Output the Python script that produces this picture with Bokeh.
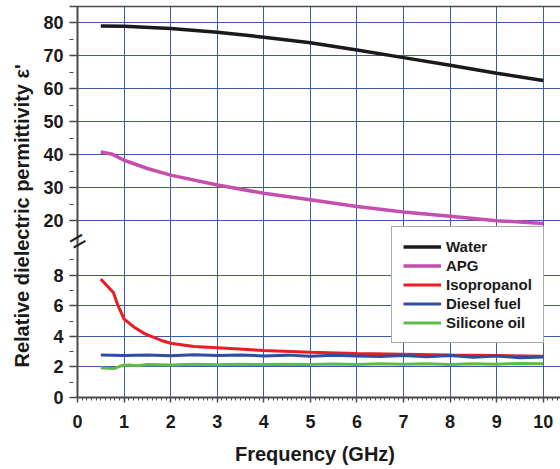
import numpy as np
from bokeh.plotting import figure
from bokeh.models import (Range1d, FixedTicker, SingleIntervalTicker, Legend,
                          LegendItem, Label, CustomJSTickFormatter, Span, Title,
                          LinearAxis)
from bokeh.embed import file_html
from bokeh.resources import INLINE

# ---------------- data ----------------
freq_water = [0.5, 1, 2, 3, 4, 5, 6, 7, 8, 9, 10]
eps_water = [79.1, 79.0, 78.3, 77.2, 75.7, 74.0, 71.8, 69.5, 67.2, 64.8, 62.6]

freq_apg = [0.5, 0.75, 1, 1.5, 2, 3, 4, 5, 6, 7, 8, 9, 10]
eps_apg = [40.9, 40.2, 38.4, 35.9, 33.9, 30.9, 28.4, 26.4, 24.4, 22.7, 21.4, 20.1, 19.2]

freq_iso = [0.5, 0.77, 0.87, 1.0, 1.2, 1.45, 1.8, 2.0, 2.5, 3, 4, 5, 6, 7, 8, 9, 10]
eps_iso = [7.74, 6.87, 6.0, 5.13, 4.63, 4.16, 3.73, 3.55, 3.33, 3.25, 3.07, 2.95,
           2.88, 2.83, 2.78, 2.74, 2.70]

freq_diesel = [0.5, 1, 1.5, 2, 2.5, 3, 3.5, 4, 4.5, 5, 5.5, 6, 6.5, 7, 7.5, 8, 8.5,
               9, 9.5, 10]
eps_diesel = [2.78, 2.75, 2.78, 2.73, 2.80, 2.74, 2.78, 2.72, 2.77, 2.70, 2.76, 2.72,
              2.68, 2.75, 2.66, 2.74, 2.63, 2.72, 2.60, 2.65]

freq_sil = [0.5, 0.65, 0.8, 0.95, 1.1, 1.3, 1.5, 2, 2.5, 3, 3.5, 4, 4.5, 5, 5.5, 6,
            6.5, 7, 7.5, 8, 8.5, 9, 9.5, 10]
eps_sil = [1.95, 1.92, 1.90, 2.08, 2.12, 2.07, 2.15, 2.12, 2.17, 2.14, 2.18, 2.15,
           2.18, 2.15, 2.19, 2.16, 2.20, 2.17, 2.20, 2.16, 2.21, 2.18, 2.22, 2.20]

names = ["Water", "APG", "Isopropanol", "Diesel fuel", "Silicone oil"]
colors = ["#1a1a1a", "#C44FAE", "#EC1C24", "#2E4EA3", "#5DBB46"]

lower_major = [0, 2, 4, 6, 8]
lower_minor = [1, 3, 5, 7, 9]
upper_major = [20, 30, 40, 50, 60, 70, 80]
upper_minor = [25, 35, 45, 55, 65, 75]
x_grid_ticks = list(range(1, 11))

y_title = "Relative dielectric permittivity \u03b5'"
x_title = "Frequency (GHz)"

# ---------------- broken axis ranges ----------------
X_MIN = -0.172            # a little room left of the origin for the tick marks
X_MAX = 10.37
LOW_TOP = 25.56           # lower scale (0..10) occupies bottom part of frame
UP_HI = 85.0              # upper scale
UP_LO = UP_HI - 118.5
BREAK_LOW = 10.24         # where the axis break marker sits (lower scale)


def to_low(v):
    return (v - UP_LO) / (UP_HI - UP_LO) * LOW_TOP


FONT = "Liberation Sans"
AXIS_COL = "#4a4a4a"
GRID_COL = "#3F58A8"
TXT_COL = "#1a1a1a"

p = figure(width=560, height=469, x_range=Range1d(X_MIN, X_MAX),
           y_range=Range1d(0, LOW_TOP), output_backend="svg",
           toolbar_location=None, min_border_left=69, min_border_right=0,
           min_border_top=6, min_border_bottom=72)
p.extra_y_ranges = {"upper": Range1d(UP_LO, UP_HI)}

p.background_fill_color = "white"
p.border_fill_color = "white"
p.outline_line_color = None

xa = p.below[0]
ya = p.left[0]

# ---- x axis ----
xa.ticker = SingleIntervalTicker(interval=1, num_minor_ticks=10)
xa.bounds = (0, X_MAX)
xa.major_tick_out = 5
xa.minor_tick_out = 3
xa.major_label_standoff = 12
xa.axis_label = x_title
xa.axis_label_standoff = 12

# ---- y axis (ticks drawn inward so they sit left of the origin line) ----
ya.ticker = FixedTicker(ticks=lower_major + [to_low(v) for v in upper_major],
                        minor_ticks=lower_minor + [to_low(v) for v in upper_minor])
ya.formatter = CustomJSTickFormatter(
    args=dict(lt=LOW_TOP, lo=UP_LO, hi=UP_HI, brk=BREAK_LOW),
    code="""
    if (tick > brk) { return Math.round(lo + tick / lt * (hi - lo)).toString(); }
    return Math.round(tick).toString();
    """)
ya.axis_line_color = None
ya.major_tick_in = 8
ya.major_tick_out = 0
ya.minor_tick_in = 4
ya.minor_tick_out = 0
ya.major_label_standoff = 6

for ax in (xa, ya):
    ax.major_tick_line_color = AXIS_COL
    ax.minor_tick_line_color = AXIS_COL
    ax.major_tick_line_width = 1.5
    ax.minor_tick_line_width = 1
    ax.major_label_text_font = FONT
    ax.major_label_text_font_style = "bold"
    ax.major_label_text_font_size = "18px"
    ax.major_label_text_color = TXT_COL
    ax.axis_label_text_font = FONT
    ax.axis_label_text_font_style = "bold"
    ax.axis_label_text_font_size = "20px"
    ax.axis_label_text_color = TXT_COL
xa.axis_line_color = AXIS_COL
xa.axis_line_width = 2
xa.major_tick_in = 0
xa.minor_tick_in = 0

# ---- top frame line (no right edge, like the reference) ----
top = LinearAxis(ticker=FixedTicker(ticks=[], minor_ticks=[]),
                 axis_line_color=AXIS_COL, axis_line_width=1.5,
                 major_tick_line_color=None, minor_tick_line_color=None,
                 major_tick_out=0, minor_tick_out=0, major_tick_in=0,
                 minor_tick_in=0, major_label_standoff=0)
p.add_layout(top, "above")

# y-axis title: placed like the reference (a bit below the frame centre)
p.add_layout(Title(text=y_title, align="left", offset=30, standoff=16,
                   text_font=FONT, text_font_style="bold", text_font_size="20px",
                   text_color=TXT_COL), "left")

# ---- grids ----
p.xgrid.ticker = FixedTicker(ticks=x_grid_ticks)
p.xgrid.grid_line_color = GRID_COL
p.xgrid.grid_line_width = 1
p.ygrid.grid_line_color = GRID_COL
p.ygrid.grid_line_width = 1

# ---- data lines ----
r_water = p.line(freq_water, eps_water, line_color=colors[0], line_width=3.5,
                 y_range_name="upper")
r_apg = p.line(freq_apg, eps_apg, line_color=colors[1], line_width=3.5,
               y_range_name="upper")
r_iso = p.line(freq_iso, eps_iso, line_color=colors[2], line_width=3)
r_diesel = p.line(freq_diesel, eps_diesel, line_color=colors[3], line_width=3)
r_sil = p.line(freq_sil, eps_sil, line_color=colors[4], line_width=3)

renderers = [r_water, r_apg, r_iso, r_diesel, r_sil]

# origin (y-axis) line
p.add_layout(Span(location=0, dimension="height", line_color=AXIS_COL, line_width=2))

legend = Legend(items=[LegendItem(label=n, renderers=[r]) for n, r in zip(names, renderers)],
                location=(322, 54))
legend.label_text_font = FONT
legend.label_text_font_style = "bold"
legend.label_text_font_size = "15px"
legend.label_text_color = TXT_COL
legend.glyph_width = 38
legend.glyph_height = 17
legend.label_height = 17
legend.label_standoff = 5
legend.spacing = 2
legend.padding = 11
legend.margin = 0
legend.border_line_color = "#555555"
legend.border_line_width = 1.5
legend.background_fill_color = "white"
legend.background_fill_alpha = 1
p.add_layout(legend, "center")

# ---- axis break marker ----
brk = Label(x=0, y=BREAK_LOW, text="=", angle=30, angle_units="deg",
            text_align="center", text_baseline="middle", text_font_size="28px",
            text_font=FONT, text_color="#222222")
p.add_layout(brk)

open("out.html", "w").write(file_html(p, INLINE))
